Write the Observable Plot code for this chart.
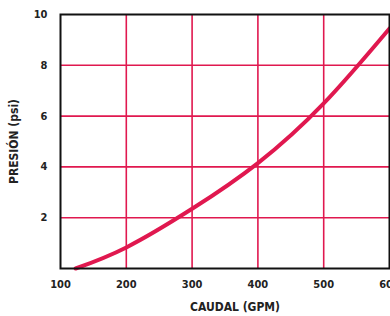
<!DOCTYPE html>
<html>
<head>
<meta charset="utf-8">
<script src="https://cdn.jsdelivr.net/npm/d3@7"></script>
<script src="https://cdn.jsdelivr.net/npm/@observablehq/plot@0.6"></script>
<style>
  html, body { margin: 0; padding: 0; background: #fff; }
  svg, svg text { font-family: "DejaVu Sans", sans-serif; font-stretch: condensed; font-weight: bold; }
</style>
</head>
<body>
<div id="chart"></div>
<script>
const caudal  = [123, 200, 300, 400, 500, 600];
const presion = [0, 0.83, 2.35, 4.15, 6.5, 9.45];
const xTicks = [100, 200, 300, 400, 500, 600];
const yTicks = [2, 4, 6, 8, 10];
const xGrid = [200, 300, 400, 500];
const yGrid = [2, 4, 6, 8];
const xLabel = "CAUDAL (GPM)";
const yLabel = "PRESIÓN (psi)";

const data = caudal.map((q, i) => ({q, p: presion[i]}));
const red = "#e0184f";

const chart = Plot.plot({
  width: 390,
  height: 316,
  marginLeft: 60,
  marginRight: 1,
  marginTop: 14,
  marginBottom: 48,
  style: {fontFamily: "'DejaVu Sans', sans-serif", fontStretch: "condensed", fontWeight: "bold", fontSize: "11px", color: "#222"},
  x: {domain: [100, 600]},
  y: {domain: [0, 10]},
  marks: [
    Plot.ruleX(xGrid, {stroke: red, strokeWidth: 1.6}),
    Plot.ruleY(yGrid, {stroke: red, strokeWidth: 1.6}),
    Plot.line(data, {x: "q", y: "p", stroke: red, strokeWidth: 4, curve: "natural"}),
    Plot.frame({stroke: "#111", strokeWidth: 2}),
    Plot.axisX({ticks: xTicks, tickSize: 0, tickPadding: 12, label: null, fontSize: 11}),
    Plot.axisY({ticks: yTicks, tickSize: 0, tickPadding: 13, label: null, fontSize: 11}),
    Plot.text([xLabel], {frameAnchor: "bottom", dy: 42, dx: 10, fontSize: 12, fontWeight: "bold", fill: "#222"}),
    Plot.text([yLabel], {frameAnchor: "left", textAnchor: "middle", dx: -46, rotate: -90, fontSize: 12, fontWeight: "bold", fill: "#222"})
  ]
});
document.getElementById("chart").appendChild(chart);
</script>
</body>
</html>
